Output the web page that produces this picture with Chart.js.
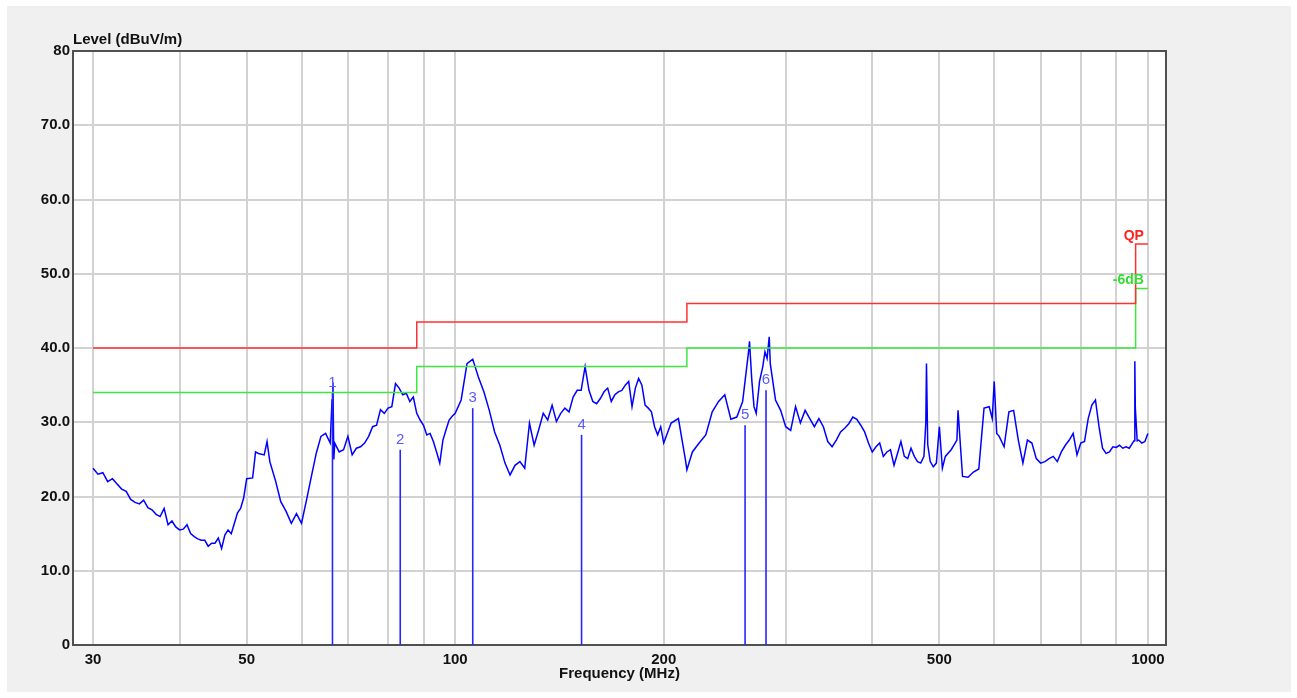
<!DOCTYPE html>
<html>
<head>
<meta charset="utf-8">
<script src="https://cdn.jsdelivr.net/npm/chart.js@4/dist/chart.umd.min.js"></script>
<style>
  html, body { margin: 0; padding: 0; background: #ffffff; }
  .panel { position: absolute; left: 7px; top: 6px; width: 1284px; height: 686px; background: #f0f0f0; }
  .chart { position: absolute; left: 0; top: 0; width: 1297px; height: 698px; }
</style>
</head>
<body>
<div class="panel"></div>
<div class="chart"><canvas id="emi" width="1297" height="698"></canvas></div>
<script>
// scan trace (MHz / dBuV/m)
const freqs = [
  30, 30.5, 31, 31.5, 32, 32.5, 33, 33.5, 34, 34.5, 35, 35.5, 36, 36.5, 37, 37.5, 38, 38.5, 39, 39.5,
  40, 40.5, 41, 41.5, 42, 42.5, 43, 43.5, 44, 44.5, 45, 45.5, 46, 46.5, 47, 47.5, 48, 48.5, 49, 49.5,
  50, 51, 51.5, 52, 53, 53.5, 54, 55, 56, 57, 58, 59, 60, 61, 62, 63, 64, 65, 66, 66.4, 66.6, 66.8,
  67, 68, 69, 70, 71, 72, 73, 74, 75, 76, 77, 78, 79, 80, 81, 82, 83, 84, 85, 86, 87, 88, 89, 90,
  91, 92, 93, 94, 95, 96, 97, 98, 99, 100, 102, 104, 106, 108, 110, 112, 114, 116, 118, 120, 122,
  124, 126, 128, 130, 132, 134, 136, 138, 140, 142, 144, 146, 148, 150, 152, 154, 156, 158, 160,
  162, 164, 166, 168, 170, 172, 174, 176, 178, 180, 182, 184, 186, 188, 190, 192, 194, 196, 198,
  200, 205, 210, 215, 216, 220, 225, 230, 235, 240, 245, 250, 255, 260, 265, 266, 268, 270, 272,
  275, 278, 280, 282, 284, 285, 290, 295, 300, 305, 310, 315, 320, 325, 330, 335, 340, 345, 350,
  355, 360, 365, 370, 375, 380, 385, 390, 395, 400, 405, 410, 415, 420, 425, 430, 435, 440, 445,
  450, 455, 460, 465, 470, 475, 478, 479, 481, 485, 490, 495, 500, 505, 510, 520, 530, 532, 540,
  550, 560, 570, 580, 590, 596, 600, 605, 610, 620, 630, 640, 650, 660, 670, 680, 690, 700, 710,
  720, 730, 740, 750, 760, 770, 780, 790, 800, 810, 820, 830, 840, 850, 860, 870, 880, 890, 900,
  910, 920, 930, 940, 950, 955, 957, 958, 959, 965, 970, 980, 990, 1000,
]
const levels = [
  23.8, 23.0, 23.2, 22.0, 22.4, 21.7, 21.0, 20.7, 19.6, 19.2, 19.0, 19.5, 18.5, 18.2, 17.6, 17.3, 18.4, 16.2, 16.7, 15.9,
  15.5, 15.6, 16.2, 15.0, 14.6, 14.3, 14.1, 14.1, 13.3, 13.7, 13.7, 14.4, 13.0, 14.8, 15.5, 15.0, 16.4, 17.8, 18.4, 19.8,
  22.4, 22.5, 26.0, 25.8, 25.6, 27.4, 24.7, 22.2, 19.3, 18.0, 16.4, 17.7, 16.4, 19.5, 22.7, 25.8, 28.1, 28.5, 27.2, 33.0, 35.4, 25.0,
  27.2, 26.0, 26.3, 28.1, 25.6, 26.5, 26.7, 27.2, 28.1, 29.4, 29.6, 31.7, 31.2, 31.9, 32.1, 35.2, 34.6, 33.7, 33.9, 32.8, 33.4, 31.2, 30.3, 29.6,
  28.3, 28.5, 27.4, 26.0, 24.5, 27.6, 29.0, 30.3, 30.8, 31.2, 33.0, 37.9, 38.5, 36.1, 34.1, 31.6, 28.7, 26.9, 24.5, 22.9, 24.2,
  24.7, 23.8, 29.9, 26.9, 29.0, 31.2, 30.3, 32.3, 30.1, 31.2, 31.9, 31.4, 33.4, 34.3, 34.3, 37.5, 34.3, 32.8, 32.5,
  33.2, 34.1, 34.6, 32.8, 33.7, 34.1, 34.3, 35.0, 35.5, 32.1, 34.6, 35.9, 35.0, 32.3, 31.9, 31.4, 29.4, 28.3, 29.4,
  27.2, 29.9, 30.5, 24.9, 23.6, 26.0, 27.2, 28.3, 31.4, 32.8, 33.7, 30.4, 30.7, 32.8, 39.3, 40.9, 35.7, 32.1, 31.2,
  35.5, 37.5, 39.5, 38.6, 41.5, 37.9, 33.0, 31.6, 29.4, 28.9, 32.1, 29.9, 31.6, 30.5, 29.4, 30.5, 29.4, 27.4, 26.7,
  27.6, 28.7, 29.2, 29.8, 30.7, 30.4, 29.6, 28.7, 27.2, 26.0, 26.7, 27.2, 25.4, 26.0, 26.3, 24.2, 25.8, 27.4, 25.4,
  25.1, 26.5, 25.4, 24.7, 24.5, 25.4, 30.0, 37.9, 27.0, 24.7, 24.0, 24.5, 29.4, 23.8, 25.4, 26.3, 27.6, 31.6, 22.7,
  22.6, 23.3, 23.7, 31.9, 32.1, 30.5, 35.5, 28.5, 28.1, 26.7, 31.4, 31.6, 27.6, 24.5, 27.6, 27.2, 25.1, 24.5, 24.7,
  25.1, 25.4, 24.7, 26.0, 26.9, 27.6, 28.5, 25.6, 27.2, 27.4, 30.5, 32.3, 33.0, 29.4, 26.5, 25.8, 26.0, 26.7, 26.6,
  26.9, 26.5, 26.7, 26.5, 27.2, 27.5, 33.0, 38.2, 32.0, 27.5, 27.6, 27.2, 27.4, 28.5,
]

// limit lines: each level holds until the next corner
const limitFreqs = [30, 88, 216, 960, 1000]
const qpLevels = [40, 43.5, 46, 54, 54]
const warnLevels = [34, 37.5, 40, 48, 48]

// markers
const markerFreqs = [66.5, 83.3, 106.0, 152.2, 262.1, 281.0]
const markerLevels = [34.0, 26.3, 31.9, 28.3, 29.6, 34.3]

// axes
const xTicks = [30, 40, 50, 60, 70, 80, 90, 100, 200, 300, 400, 500, 600, 700, 800, 900, 1000]
const xLabels = [30, 50, 100, 200, 500, 1000]

const FONT = "'Liberation Sans', Arial, sans-serif"
Chart.defaults.font.family = FONT

const overlayPlugin = {
  id: "overlay",
  beforeDraw(chart) {
    const { ctx, chartArea: a } = chart
    ctx.save()
    ctx.fillStyle = "#ffffff"
    ctx.fillRect(a.left, a.top, a.right - a.left, a.bottom - a.top)
    ctx.restore()
  },
  afterDraw(chart) {
    const { ctx, chartArea: a } = chart
    const x = chart.scales.x
    const y = chart.scales.y
    ctx.save()
    // frame top / right
    ctx.strokeStyle = "#505050"
    ctx.lineWidth = 2
    ctx.beginPath()
    ctx.moveTo(a.left, a.top)
    ctx.lineTo(a.right, a.top)
    ctx.lineTo(a.right, a.bottom)
    ctx.stroke()

    // y title
    ctx.fillStyle = "#111111"
    ctx.font = "bold 15px " + FONT
    ctx.textAlign = "left"
    ctx.textBaseline = "middle"
    ctx.fillText("Level (dBuV/m)", a.left, a.top - 11)

    // limit names
    ctx.textAlign = "right"
    ctx.font = "bold 14px " + FONT
    ctx.fillStyle = "#ff2020"
    ctx.fillText("QP", x.getPixelForValue(1000) - 4, y.getPixelForValue(qpLevels[3]) - 8)
    ctx.fillStyle = "#33dd33"
    ctx.fillText("-6dB", x.getPixelForValue(1000) - 4, y.getPixelForValue(warnLevels[3]) - 8)

    // marker numbers
    ctx.textAlign = "center"
    ctx.font = "15px " + FONT
    ctx.fillStyle = "#5a5aff"
    markerFreqs.forEach((f, i) => {
      ctx.fillText(String(i + 1), x.getPixelForValue(f), y.getPixelForValue(markerLevels[i]) - 10)
    })
    ctx.restore()
  },
}

const markerSets = markerFreqs.map((f, i) => ({
  label: "M" + (i + 1),
  data: [
    { x: f, y: 0 },
    { x: f, y: markerLevels[i] },
  ],
  borderColor: "#2626ff",
  borderWidth: 1.6,
  pointRadius: 0,
}))

const createChart = (ctx) => {
  const data = {
    datasets: [
      {
        label: "QP",
        data: limitFreqs.map((f, i) => ({ x: f, y: qpLevels[i] })),
        borderColor: "#ff3030",
        borderWidth: 1.5,
        pointRadius: 0,
        stepped: "before",
      },
      {
        label: "-6dB",
        data: limitFreqs.map((f, i) => ({ x: f, y: warnLevels[i] })),
        borderColor: "#3de83d",
        borderWidth: 1.5,
        pointRadius: 0,
        stepped: "before",
      },
      ...markerSets,
      {
        label: "Scan",
        data: freqs.map((f, i) => ({ x: f, y: levels[i] })),
        borderColor: "#0000ff",
        borderWidth: 1.5,
        pointRadius: 0,
        tension: 0,
      },
    ],
  }

  const options = {
    responsive: false,
    animation: false,
    layout: {
      padding: { left: 0, top: 51, right: 131, bottom: 15 },
    },
    plugins: {
      legend: { display: false },
      tooltip: { enabled: false },
    },
    scales: {
      x: {
        type: "logarithmic",
        min: 28.07,
        max: 1062,
        afterBuildTicks: (scale) => {
          scale.ticks = xTicks.map((v) => ({ value: v }))
        },
        afterFit: (scale) => {
          scale.height = 38
        },
        grid: { color: "#d2d2d2", lineWidth: 2, drawTicks: false },
        border: { display: true, color: "#505050", width: 2 },
        ticks: {
          autoSkip: false,
          maxRotation: 0,
          padding: 6,
          color: "#111111",
          font: { size: 15, weight: "bold" },
          callback: (v) => (xLabels.includes(v) ? String(v) : ""),
        },
        title: {
          display: true,
          text: "Frequency (MHz)",
          color: "#111111",
          font: { size: 15, weight: "bold" },
          padding: 0,
        },
      },
      y: {
        min: 0,
        max: 80,
        afterFit: (scale) => {
          scale.width = 73
        },
        grid: { color: "#d2d2d2", lineWidth: 2, drawTicks: false },
        border: { display: true, color: "#505050", width: 2 },
        ticks: {
          stepSize: 10,
          padding: 3,
          color: "#111111",
          font: { size: 15, weight: "bold" },
          callback: (v) => (v === 0 || v === 80 ? String(v) : v.toFixed(1)),
        },
      },
    },
  }

  return new Chart(ctx, {
    type: "line",
    data: data,
    options: options,
    plugins: [overlayPlugin],
  })
}

createChart(document.getElementById("emi").getContext("2d"))
</script>
</body>
</html>
